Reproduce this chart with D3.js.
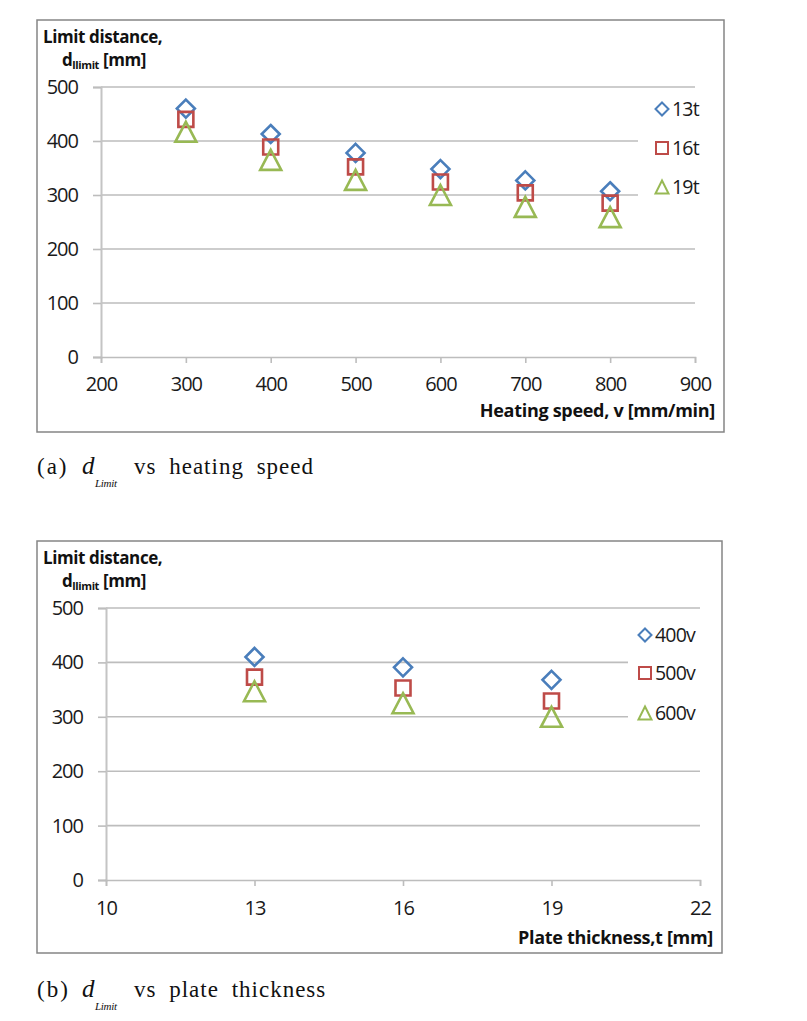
<!DOCTYPE html>
<html><head><meta charset="utf-8">
<script src="https://cdn.jsdelivr.net/npm/d3@7/dist/d3.min.js"></script>
<style>
body{margin:0;background:#fff;}
svg{display:block;}
</style></head>
<body>
<svg id="c" width="807" height="1021"></svg>
<script>
// ---- Data ----
const speeds = [300, 400, 500, 600, 700, 800];
const d13t = [460, 413, 378, 348, 327, 307];
const d16t = [440, 389, 352, 324, 304, 285];
const d19t = [417, 365, 328, 300, 278, 259];
const seriesA = ["13t", "16t", "19t"];

const thick = [13, 16, 19];
const d400v = [410, 391, 368];
const d500v = [373, 353, 329];
const d600v = [347, 325, 300];
const seriesB = ["400v", "500v", "600v"];

const yTicks = [0, 100, 200, 300, 400, 500];
const xTicksA = [200, 300, 400, 500, 600, 700, 800, 900];
const xTicksB = [10, 13, 16, 19, 22];

const colors = ["#4a7ebb", "#be4b48", "#98b954"];
const shapes = ["diamond", "square", "triangle"];

const svg = d3.select("#c");
const sans = "'Open Sans', sans-serif";
const serif = "'Liberation Serif', serif";

function marker(g, shape, cx, cy, color) {
  let d;
  if (shape === "diamond") { const r = 9; d = `M${cx},${cy-r}L${cx+r},${cy}L${cx},${cy+r}L${cx-r},${cy}Z`; }
  else if (shape === "square") { const r = 7.5; d = `M${cx-r},${cy-r}H${cx+r}V${cy+r}H${cx-r}Z`; }
  else { const w = 10.5, h = 10; d = `M${cx},${cy-h}L${cx+w},${cy+h}L${cx-w},${cy+h}Z`; }
  g.append("path").attr("d", d).attr("fill", "none").attr("stroke", color).attr("stroke-width", 2.6).attr("stroke-linejoin", "miter");
}

function legendMarker(g, shape, cx, cy, color) {
  let d;
  if (shape === "diamond") { const r = 6.5; d = `M${cx},${cy-r}L${cx+r},${cy}L${cx},${cy+r}L${cx-r},${cy}Z`; }
  else if (shape === "square") { const r = 6; d = `M${cx-r},${cy-r}H${cx+r}V${cy+r}H${cx-r}Z`; }
  else { const w = 6.5, h = 6.5; d = `M${cx},${cy-h}L${cx+w},${cy+h}L${cx-w},${cy+h}Z`; }
  g.append("path").attr("d", d).attr("fill", "none").attr("stroke", color).attr("stroke-width", 2);
}

function panel(cfg) {
  const g = svg.append("g");
  g.append("rect").attr("x", cfg.box[0]).attr("y", cfg.box[1]).attr("width", cfg.box[2]).attr("height", cfg.box[3])
    .attr("fill", "#fff").attr("stroke", "#858585").attr("stroke-width", 1.5);

  const x = d3.scaleLinear().domain(cfg.xDomain).range(cfg.xRange);
  const y = d3.scaleLinear().domain([0, 500]).range(cfg.yRange);

  // gridlines
  g.append("g").selectAll("line").data(yTicks.filter(t => t > 0)).join("line")
    .attr("x1", cfg.xRange[0]).attr("x2", cfg.xRange[1])
    .attr("y1", d => y(d)).attr("y2", d => y(d))
    .attr("stroke", "#bdbdbd").attr("stroke-width", 1.6);

  // y axis
  const ya = g.append("g").attr("transform", `translate(${cfg.xRange[0]},0)`)
    .call(d3.axisLeft(y).tickValues(yTicks).tickSize(8).tickPadding(15));
  ya.select(".domain").attr("stroke", "#c4c4c4").attr("stroke-width", 2);
  ya.selectAll(".tick line").attr("stroke", "#bdbdbd").attr("stroke-width", 1.6);
  ya.selectAll("text").attr("font-family", sans).attr("font-size", 20).attr("fill", "#1a1a1a").attr("letter-spacing", -1);

  // x axis
  const xa = g.append("g").attr("transform", `translate(0,${cfg.yRange[0]})`)
    .call(d3.axisBottom(x).tickValues(cfg.xTicks).tickSize(6).tickPadding(cfg.xPad));
  xa.select(".domain").attr("stroke", "#bdbdbd").attr("stroke-width", 1.6);
  xa.selectAll(".tick line").attr("stroke", "#bdbdbd").attr("stroke-width", 1.6);
  xa.selectAll("text").attr("font-family", sans).attr("font-size", 20).attr("fill", "#1a1a1a").attr("letter-spacing", -1);

  // axis titles
  g.append("text").attr("x", cfg.box[0] + 6).attr("y", cfg.box[1] + 23)
    .attr("font-family", sans).attr("font-weight", "bold").attr("font-size", 17).attr("letter-spacing", -0.4).attr("fill", "#111")
    .text("Limit distance,");
  const t2 = g.append("text").attr("x", cfg.box[0] + 25).attr("y", cfg.box[1] + 46)
    .attr("font-family", sans).attr("font-weight", "bold").attr("font-size", 17).attr("letter-spacing", -0.4).attr("fill", "#111");
  t2.append("tspan").text("d");
  t2.append("tspan").attr("font-size", 11).attr("dy", 3).text("llimit");
  t2.append("tspan").attr("dy", -3).text(" [mm]");

  g.append("text").attr("x", cfg.box[0] + cfg.box[2] - 9).attr("y", cfg.box[1] + cfg.box[3] - cfg.titleOff)
    .attr("text-anchor", "end")
    .attr("font-family", sans).attr("font-weight", "bold").attr("font-size", 18).attr("letter-spacing", -0.3).attr("fill", "#111")
    .text(cfg.xTitle);

  // legend background
  g.append("rect").attr("x", cfg.legend.bg[0]).attr("y", cfg.legend.bg[1]).attr("width", cfg.legend.bg[2]).attr("height", cfg.legend.bg[3]).attr("fill", "#fff");

  // points
  cfg.series.forEach((vals, si) => {
    const sg = g.append("g");
    cfg.xs.forEach((xv, i) => marker(sg, shapes[si], x(xv), y(vals[i]), colors[si]));
  });

  // legend
  cfg.names.forEach((n, i) => {
    const ly = cfg.legend.ys[i];
    legendMarker(g, shapes[i], cfg.legend.mx, ly, colors[i]);
    g.append("text").attr("x", cfg.legend.mx + 10).attr("y", ly + 7)
      .attr("font-family", sans).attr("font-size", 19.5).attr("letter-spacing", -0.8).attr("fill", "#1a1a1a").text(n);
  });

  // caption
  const cx = cfg.cap[0], cy = cfg.cap[1];
  const cap = svg.append("text").attr("y", cy)
    .attr("font-family", serif).attr("font-size", 23).attr("fill", "#111");
  cap.append("tspan").attr("x", cx).attr("letter-spacing", 2).text(cfg.capLabel);
  cap.append("tspan").attr("x", cx + 45).attr("font-style", "italic").attr("font-size", 25).text("d");
  cap.append("tspan").attr("x", cx + 58).attr("dy", 13).attr("font-style", "italic").attr("font-size", 11).attr("letter-spacing", -0.3).text("Limit");
  cap.append("tspan").attr("x", cx + 97).attr("dy", -13).attr("letter-spacing", 1).attr("word-spacing", 6).text("vs " + cfg.capText);
}

panel({
  box: [37, 20, 687, 412],
  xDomain: [200, 900], xRange: [101, 695], yRange: [357, 87],
  xTicks: xTicksA, xs: speeds, xPad: 14, titleOff: 15,
  series: [d13t, d16t, d19t], names: seriesA,
  xTitle: "Heating speed, v [mm/min]",
  legend: { bg: [638, 96, 82, 106], mx: 662, ys: [109, 148, 187] },
  cap: [37, 474], capLabel: "(a)", capText: "heating speed"
});

panel({
  box: [37, 541, 685, 412],
  xDomain: [10, 22], xRange: [106, 700], yRange: [880, 608],
  xTicks: xTicksB, xs: thick, xPad: 15, titleOff: 9,
  series: [d400v, d500v, d600v], names: seriesB,
  xTitle: "Plate thickness,t [mm]",
  legend: { bg: [628, 620, 92, 108], mx: 645, ys: [635, 673, 713] },
  cap: [37, 997], capLabel: "(b)", capText: "plate thickness"
});
</script>
</body></html>
